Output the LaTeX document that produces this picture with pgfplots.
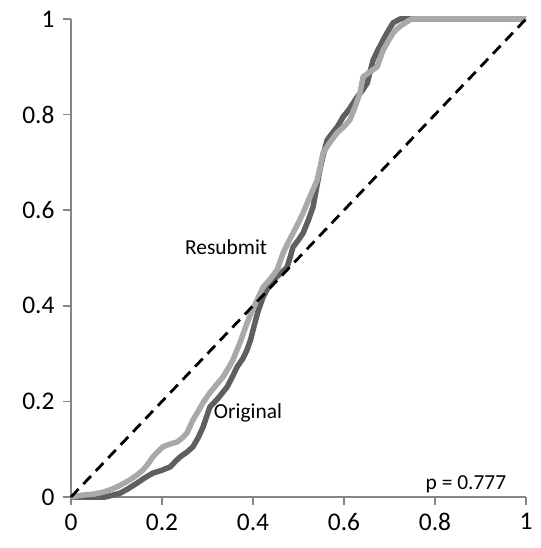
\documentclass[border=0pt]{standalone}
\usepackage{pgfplots}
\pgfplotsset{compat=1.18}
\usepackage{fontspec}
\setmainfont{Carlito}
\definecolor{dkgray}{HTML}{5F5F5F}
\definecolor{ltgray}{HTML}{A9A9A9}
\definecolor{axgray}{HTML}{868686}
\begin{document}
\begin{tikzpicture}
\path[use as bounding box] (-71bp,-51bp) rectangle (470bp,497bp);
\begin{axis}[
 at={(0,0)}, anchor=south west,
 scale only axis, width=455bp, height=478bp,
 xmin=0, xmax=1, ymin=0, ymax=1,
 axis x line*=bottom, axis y line*=left,
 axis line style={axgray, line width=1.5bp, -},
 xtick={0,0.2,0.4,0.6,0.8,1}, ytick={0,0.2,0.4,0.6,0.8,1},
 tick style={axgray, line width=1.5bp},
 tick align=outside, major tick length=8bp,
 tick label style={font=\fontsize{25.5}{30}\selectfont, black},
 /pgf/number format/assume math mode=true,
 yticklabel style={xshift=-5bp},
 xticklabel style={yshift=-5bp},
 clip=false,
]
% Original (dark)
\addplot[dkgray, line width=5.5bp, line join=round] coordinates {
(0,0) (0.075,0) (0.092,0.004) (0.108,0.008) (0.125,0.017) (0.145,0.029) (0.162,0.040) (0.180,0.050) (0.200,0.056) (0.218,0.063) (0.230,0.075) (0.240,0.084) (0.255,0.094) (0.268,0.105) (0.280,0.125) (0.290,0.146) (0.298,0.168) (0.305,0.188) (0.322,0.205) (0.343,0.230) (0.355,0.252) (0.365,0.272) (0.378,0.290) (0.387,0.308) (0.395,0.330) (0.400,0.349) (0.410,0.385) (0.422,0.418) (0.433,0.438) (0.444,0.454) (0.460,0.467) (0.475,0.481) (0.482,0.503) (0.488,0.523) (0.500,0.538) (0.510,0.552) (0.522,0.580) (0.532,0.607) (0.540,0.648) (0.547,0.684) (0.555,0.718) (0.563,0.747) (0.575,0.762) (0.585,0.774) (0.598,0.795) (0.612,0.812) (0.629,0.837) (0.640,0.850) (0.651,0.866) (0.658,0.892) (0.664,0.914) (0.675,0.936) (0.686,0.956) (0.697,0.975) (0.708,0.992) (0.723,1.0) (1,1)
};
% Resubmit (light)
\addplot[ltgray, line width=5.5bp, line join=round] coordinates {
(0,0) (0.026,0.004) (0.050,0.006) (0.070,0.010) (0.086,0.015) (0.101,0.021) (0.115,0.028) (0.130,0.036) (0.145,0.046) (0.158,0.056) (0.170,0.070) (0.180,0.084) (0.192,0.096) (0.202,0.105) (0.218,0.111) (0.233,0.115) (0.245,0.124) (0.255,0.134) (0.268,0.161) (0.280,0.180) (0.290,0.197) (0.305,0.218) (0.320,0.235) (0.334,0.251) (0.346,0.270) (0.356,0.287) (0.371,0.322) (0.387,0.364) (0.398,0.390) (0.409,0.412) (0.422,0.439) (0.438,0.456) (0.453,0.475) (0.466,0.510) (0.477,0.532) (0.488,0.552) (0.500,0.574) (0.510,0.594) (0.525,0.628) (0.541,0.663) (0.548,0.692) (0.554,0.720) (0.570,0.743) (0.585,0.762) (0.600,0.775) (0.613,0.789) (0.625,0.818) (0.635,0.845) (0.642,0.879) (0.658,0.890) (0.673,0.900) (0.686,0.935) (0.698,0.955) (0.708,0.971) (0.722,0.984) (0.738,0.994) (0.748,1.0) (1,1)
};
\addplot[black, line width=2.8bp, dash pattern=on 11bp off 7bp] coordinates {(0,0) (1,1)};
\node[font=\fontsize{21.5}{26}\selectfont] at (axis cs:0.341,0.523) {Resubmit};
\node[font=\fontsize{21.5}{26}\selectfont] at (axis cs:0.389,0.176) {Original};
\node[font=\fontsize{21.5}{26}\selectfont] at (axis cs:0.868,0.027) {p = 0.777};
\end{axis}
\end{tikzpicture}
\end{document}
